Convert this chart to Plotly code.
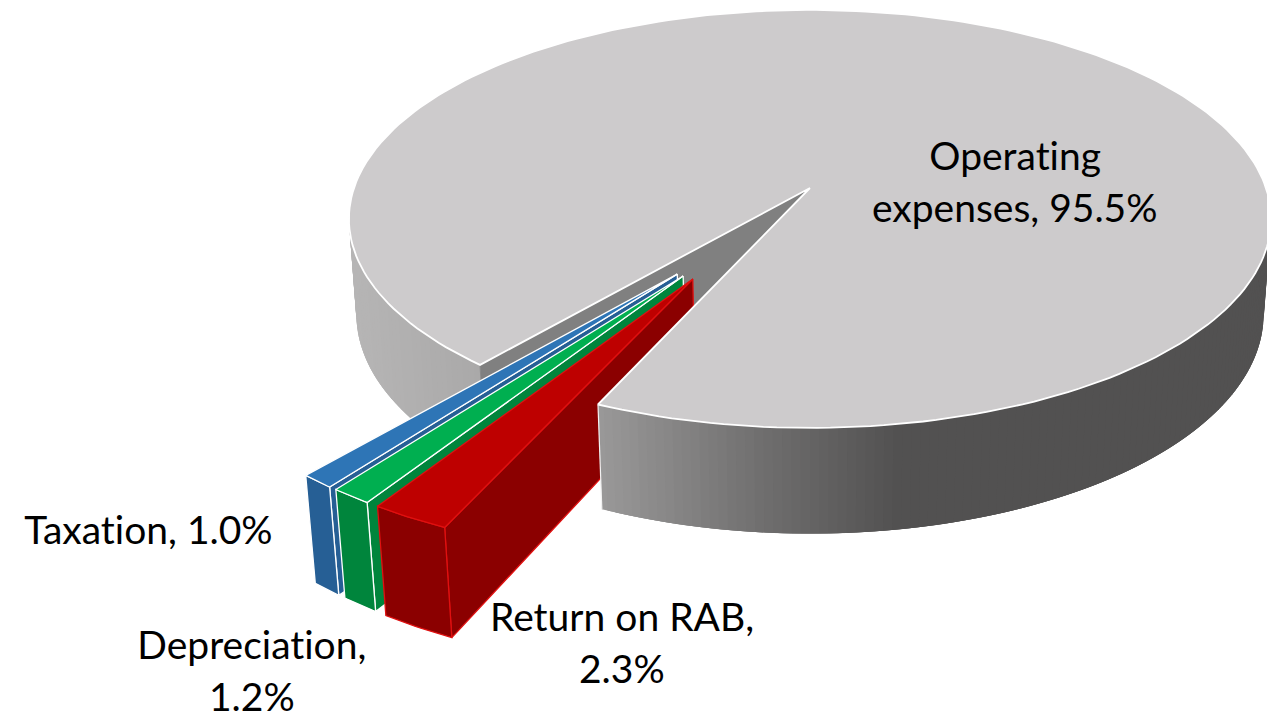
import numpy as np
import plotly.graph_objects as go

# ---- data ----
categories = ["Return on RAB", "Depreciation", "Taxation", "Operating expenses"]
values = [2.3, 1.2, 1.0, 95.5]
top_colors = ["#BE0000", "#00AF50", "#2E75B6", "#CDCBCC"]
wall_colors = ["#8B0000", "#00853C", "#265F95", None]
edge_colors = ["#E01010", "#FFFFFF", "#FFFFFF", "#FFFFFF"]
label_centres = {
    "Operating expenses": (1015, 181),
    "Taxation": (148, 529),
    "Depreciation": (252, 670),
    "Return on RAB": (622, 642),
}
label_lines = {
    "Operating expenses": ["Operating", "expenses, {v}%"],
    "Taxation": ["Taxation, {v}%"],
    "Depreciation": ["Depreciation,", "{v}%"],
    "Return on RAB": ["Return on RAB,", "{v}%"],
}

# ---- projection of the 3-D pie on the page ----
X0, Y0, A, B, C, K, M = 810, 188, 456, 204.4, 95.6, 0.148, 0.016
START = 23.7      # degrees clockwise from the front
EXPLODE = 0.482
SPREAD = 0.45     # how far the exploded slices fan out from the group's middle


def project(x, y, z=0.0):
    x, y = np.asarray(x, float), np.asarray(y, float)
    w = 1 - K * y + M * z
    return X0 + A * x / w, Y0 + (B * y + C * z) / w


def arc(t0, t1, n, off=(0, 0)):
    t = np.radians(np.linspace(t0, t1, n))
    return off[0] - np.sin(t), off[1] + np.cos(t)


stops_x = [340, 480, 600, 760, 900, 1270]
stops_v = [183, 170, 153, 112, 82, 82]


def shade(x):
    v = int(round(np.interp(x, stops_x, stops_v)))
    return f"rgb({v},{v - 1},{v - 1})"


fig = go.Figure()


def poly(px, py, fill, line=None, width=0.8):
    fig.add_trace(go.Scatter(
        x=np.r_[px, px[0]], y=np.r_[py, py[0]], mode="lines", fill="toself",
        fillcolor=fill, line=dict(color=line or fill, width=width),
        hoverinfo="skip", showlegend=False))


def stroke(px, py, color, width=1.6):
    fig.add_trace(go.Scatter(x=px, y=py, mode="lines", line=dict(color=color, width=width),
                             hoverinfo="skip", showlegend=False))


def shaded_wall(t0, t1, order=1, step=1.0):
    # strips overlap the next one so that no seams show between them
    ts = np.arange(t0, t1 + step, step)
    ts[-1] = t1
    pairs = list(zip(ts[:-1], ts[1:]))
    if order < 0:
        pairs = pairs[::-1]
    for a, b in pairs:
        lo, hi = (a, min(b + 2 * step, t1)) if order > 0 else (max(a - 2 * step, t0), b)
        xa, ya = arc(lo, hi, 4)
        tx, ty = project(xa, ya, 0)
        bx, by = project(xa, ya, 1)
        mx, _ = project(*arc((a + b) / 2, (a + b) / 2, 1), 0)
        poly(np.r_[tx, bx[::-1]], np.r_[ty, by[::-1]], shade(mx[0]), width=0)


# angular extents
spans = np.array(values) * 3.6
starts = START + np.r_[0, np.cumsum(spans)[:-1]]
main_t0 = starts[3]
main_t1 = main_t0 + spans[3]
group_mid = (START + main_t0) / 2

# back part of the main slice: left wall and its cut face
ux, uy = arc(main_t0, main_t0, 1)
cx, cy = project([0, ux[0]], [0, uy[0]], 0)
dx, dy = project([0, ux[0]], [0, uy[0]], 1)
shaded_wall(main_t0, 90)
poly(np.r_[cx, dx[::-1]], np.r_[cy, dy[::-1]], "#808080")

# exploded slices: furthest first
for i in [2, 1, 0]:
    t0, t1 = starts[i], starts[i] + spans[i]
    mid = np.radians(group_mid + SPREAD * ((t0 + t1) / 2 - group_mid))
    off = (-EXPLODE * np.sin(mid), EXPLODE * np.cos(mid))
    ax, ay = arc(t0, t1, 12, off)
    # right-hand cut wall
    wx = np.r_[off[0], ax[0]]
    wy = np.r_[off[1], ay[0]]
    tx2, ty2 = project(wx, wy, 0)
    bx2, by2 = project(wx, wy, 1)
    poly(np.r_[tx2, bx2[::-1]], np.r_[ty2, by2[::-1]], wall_colors[i], edge_colors[i], 1.3)
    # front wall
    tx, ty = project(ax, ay, 0)
    bx, by = project(ax, ay, 1)
    poly(np.r_[tx, bx[::-1]], np.r_[ty, by[::-1]], wall_colors[i], edge_colors[i], 1.3)
    # top
    sx, sy = project(np.r_[off[0], ax], np.r_[off[1], ay], 0)
    poly(sx, sy, top_colors[i], edge_colors[i], 1.3)

# main slice front wall and top, drawn over the exploded slices
shaded_wall(-90, START, order=-1)
ax, ay = arc(main_t0, main_t1, 240)
sx, sy = project(np.r_[0, ax], np.r_[0, ay], 0)
poly(sx, sy, top_colors[3], "#FFFFFF", 1.8)
sx2, sy2 = project(*arc(START, START, 1), 0)
ex, ey = project(*arc(START, START, 1), 1)
stroke(np.r_[sx2, ex], np.r_[sy2, ey], "#F2F2F2", 1.2)

# labels
annotations = []
for cat, val in zip(categories, values):
    lines = label_lines[cat]
    xc, yc = label_centres[cat]
    for j, ln in enumerate(lines):
        annotations.append(dict(
            x=xc, y=yc + (j - (len(lines) - 1) / 2) * 52, text=ln.format(v=val),
            showarrow=False, xanchor="center", yanchor="middle",
            font=dict(family="Lato", size=39, color="#000000")))

fig.update_layout(
    width=1267, height=715, margin=dict(l=0, r=0, t=0, b=0),
    paper_bgcolor="white", plot_bgcolor="white", showlegend=False,
    xaxis=dict(range=[0, 1267], visible=False, fixedrange=True),
    yaxis=dict(range=[715, 0], visible=False, fixedrange=True),
    annotations=annotations,
)
fig.write_html(
    "out.html",
    config={"displayModeBar": False},
    post_script="document.body.style.margin='0';document.body.style.overflow='hidden';"
                "document.querySelectorAll('.annotation-text').forEach(function(e){"
                "e.style.fontVariantLigatures='none';});",
)
